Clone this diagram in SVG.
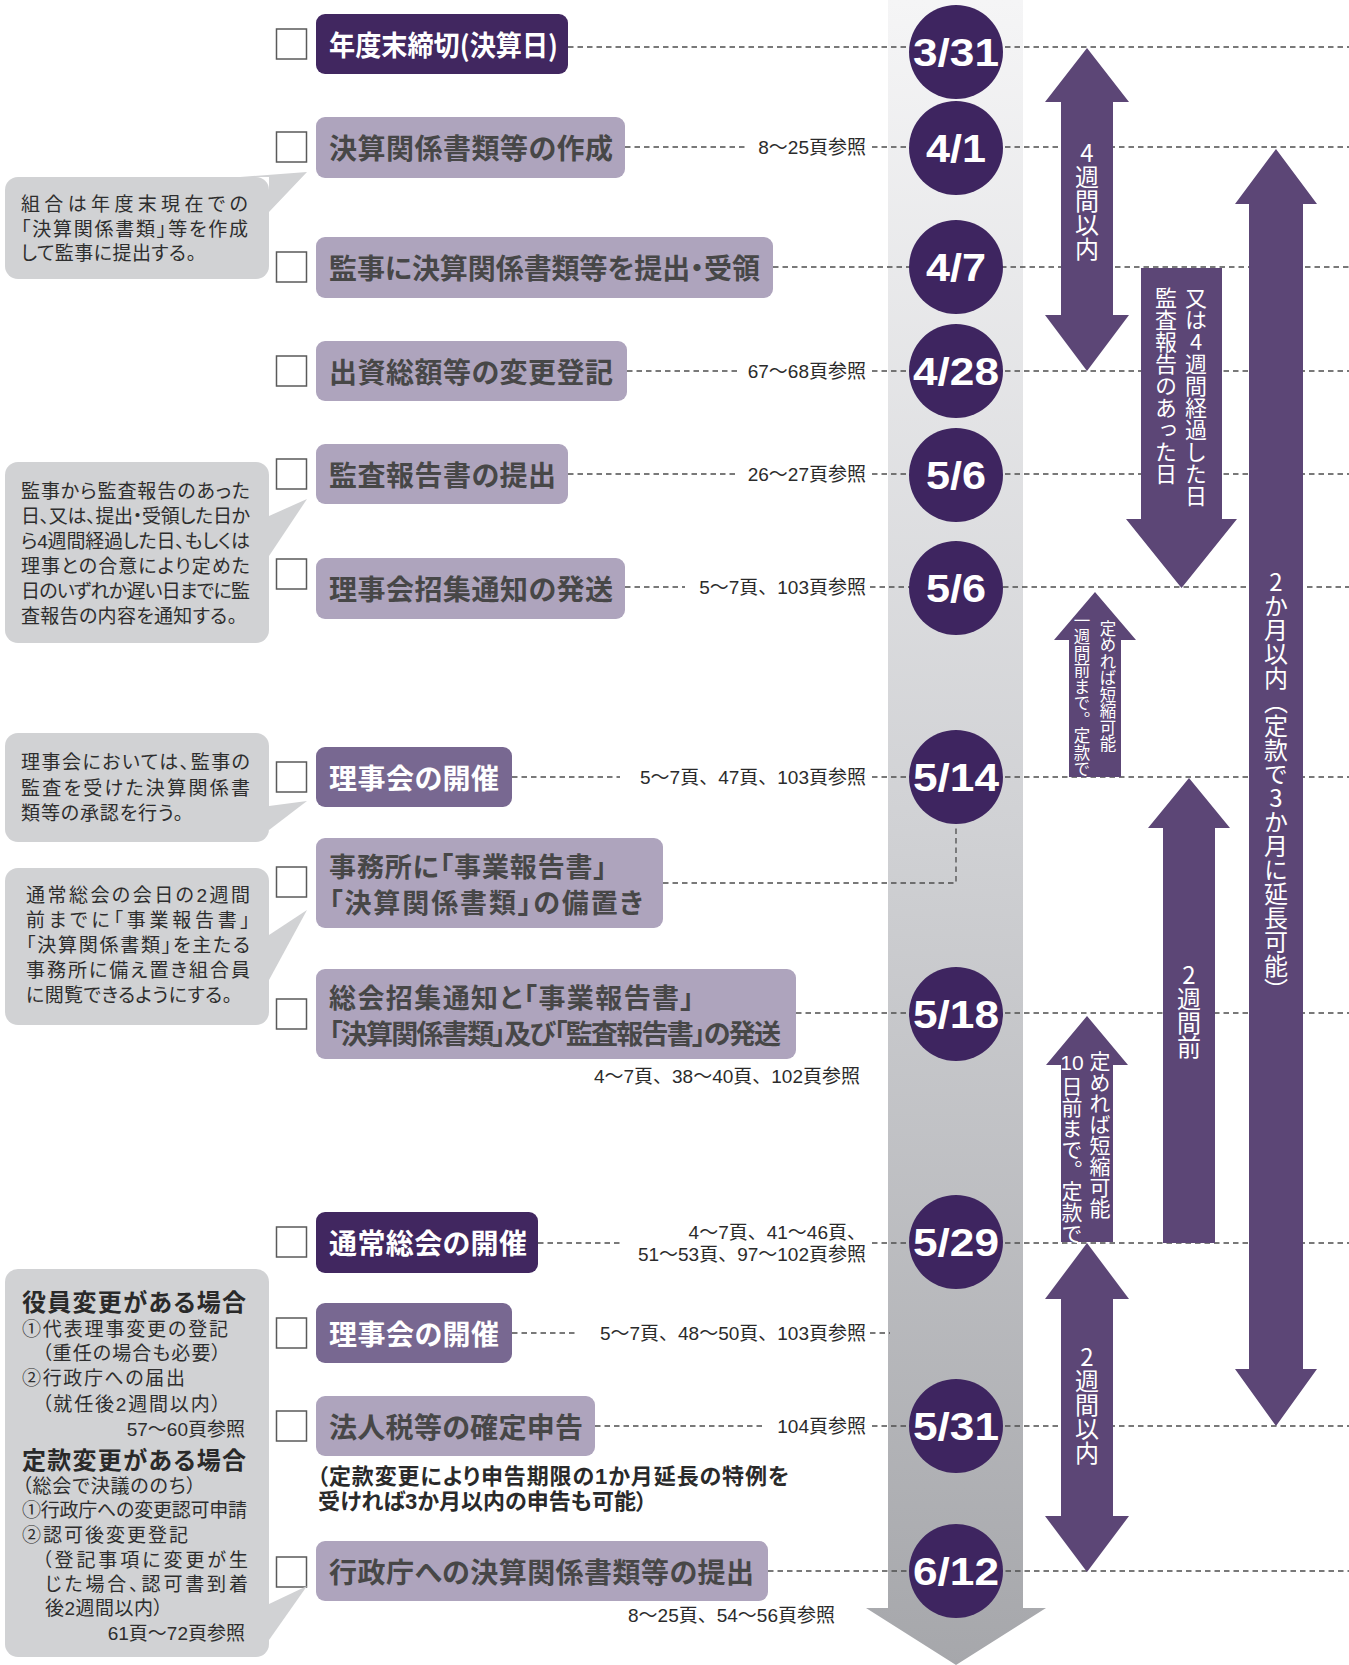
<svg xmlns="http://www.w3.org/2000/svg" width="1349" height="1665" viewBox="0 0 1349 1665">
<defs>
<linearGradient id="bandGrad" x1="0" y1="0" x2="0" y2="1665" gradientUnits="userSpaceOnUse">
<stop offset="0" stop-color="#f5f5f6"/>
<stop offset="0.5" stop-color="#d0d1d4"/>
<stop offset="1" stop-color="#a6a7ab"/>
</linearGradient>
<style>
.cb{fill:#fff;stroke:#5a5a5a;stroke-width:1.5}
.bxd{fill:#412760}
.bxm{fill:#786891}
.bxl{fill:#aea4bd}
.tb{font-family:"Noto Sans CJK JP",sans-serif;font-size:28px;font-weight:700;dominant-baseline:central;font-feature-settings:"palt"}
.t2{font-size:27px}
.tw{fill:#fff}
.tg{fill:#474747}
.dash{stroke:#4d4d4d;stroke-width:1.3;stroke-dasharray:5.5 4;fill:none}
.ref{font-family:"Liberation Sans","Noto Sans CJK JP",sans-serif;font-size:19px;fill:#2b2b2b;text-anchor:end;dominant-baseline:central}
.date{font-family:"Liberation Sans",sans-serif;font-weight:700;font-size:38px;fill:#fff;text-anchor:middle;dominant-baseline:central}
.dot{fill:#3e2560}
.arr{fill:#5c4676}
.vt{font-family:"Noto Sans CJK JP",sans-serif;fill:#fff;writing-mode:vertical-rl;text-orientation:upright}
.bub{fill:#d1d2d4}
.bt{font-family:"Liberation Sans","Noto Sans CJK JP",sans-serif;font-size:19px;fill:#2e2e2e;dominant-baseline:central;font-feature-settings:"palt"}
.bh{font-family:"Noto Sans CJK JP",sans-serif;font-size:24px;font-weight:700;fill:#2a2a2a}
.rf{font-size:19px;text-anchor:end}
.note{font-family:"Liberation Sans","Noto Sans CJK JP",sans-serif;font-size:22px;font-weight:700;fill:#2a2a2a;dominant-baseline:central;font-feature-settings:"palt"}
</style>
</defs>

<g id="timeline-band">
<path d="M888,0 H1023 V1608 H1046 L956,1665 L866,1608 H888 Z" fill="url(#bandGrad)"/>
</g>

<g id="connectors">
<line class="dash" x1="568" y1="47" x2="1349" y2="47"/>
<line class="dash" x1="625" y1="147" x2="745" y2="147"/>
<line class="dash" x1="872" y1="147" x2="1349" y2="147"/>
<line class="dash" x1="773" y1="267" x2="1349" y2="267"/>
<line class="dash" x1="627" y1="371" x2="737" y2="371"/>
<line class="dash" x1="872" y1="371" x2="1349" y2="371"/>
<line class="dash" x1="568" y1="474" x2="737" y2="474"/>
<line class="dash" x1="872" y1="474" x2="1349" y2="474"/>
<line class="dash" x1="625" y1="587" x2="685" y2="587"/>
<line class="dash" x1="870" y1="587" x2="1349" y2="587"/>
<line class="dash" x1="512" y1="777" x2="620" y2="777"/>
<line class="dash" x1="872" y1="777" x2="1349" y2="777"/>
<path class="dash" d="M663,883 H956 V826"/>
<line class="dash" x1="796" y1="1013" x2="1349" y2="1013"/>
<line class="dash" x1="538" y1="1243" x2="622" y2="1243"/>
<line class="dash" x1="872" y1="1243" x2="1349" y2="1243"/>
<line class="dash" x1="512" y1="1333" x2="577" y2="1333"/>
<line class="dash" x1="870" y1="1333" x2="890" y2="1333"/>
<line class="dash" x1="595" y1="1426" x2="766" y2="1426"/>
<line class="dash" x1="872" y1="1426" x2="1349" y2="1426"/>
<line class="dash" x1="768" y1="1571" x2="1349" y2="1571"/>
</g>

<g id="dates">
<g id="d-0331"><circle class="dot" cx="956" cy="52" r="47"/><text class="date" x="956" y="53" textLength="86" lengthAdjust="spacingAndGlyphs">3/31</text></g>
<g id="d-0401"><circle class="dot" cx="956" cy="148" r="47"/><text class="date" x="956" y="149" textLength="60" lengthAdjust="spacingAndGlyphs">4/1</text></g>
<g id="d-0407"><circle class="dot" cx="956" cy="267" r="47"/><text class="date" x="956" y="268" textLength="60" lengthAdjust="spacingAndGlyphs">4/7</text></g>
<g id="d-0428"><circle class="dot" cx="956" cy="371" r="47"/><text class="date" x="956" y="372" textLength="86" lengthAdjust="spacingAndGlyphs">4/28</text></g>
<g id="d-0506a"><circle class="dot" cx="956" cy="475" r="47"/><text class="date" x="956" y="476" textLength="60" lengthAdjust="spacingAndGlyphs">5/6</text></g>
<g id="d-0506b"><circle class="dot" cx="956" cy="588" r="47"/><text class="date" x="956" y="589" textLength="60" lengthAdjust="spacingAndGlyphs">5/6</text></g>
<g id="d-0514"><circle class="dot" cx="956" cy="777" r="47"/><text class="date" x="956" y="778" textLength="86" lengthAdjust="spacingAndGlyphs">5/14</text></g>
<g id="d-0518"><circle class="dot" cx="956" cy="1014" r="47"/><text class="date" x="956" y="1015" textLength="86" lengthAdjust="spacingAndGlyphs">5/18</text></g>
<g id="d-0529"><circle class="dot" cx="956" cy="1242" r="47"/><text class="date" x="956" y="1243" textLength="86" lengthAdjust="spacingAndGlyphs">5/29</text></g>
<g id="d-0531"><circle class="dot" cx="956" cy="1426" r="47"/><text class="date" x="956" y="1427" textLength="86" lengthAdjust="spacingAndGlyphs">5/31</text></g>
<g id="d-0612"><circle class="dot" cx="956" cy="1571" r="47"/><text class="date" x="956" y="1572" textLength="86" lengthAdjust="spacingAndGlyphs">6/12</text></g>
</g>

<g id="arrows">
<g id="arrow-4weeks">
<path class="arr" d="M1087,48 L1129,102 L1113,102 L1113,315 L1129,315 L1087,371 L1045,315 L1061,315 L1061,102 L1045,102 Z"/>
<text class="vt" x="1087" y="141" style="font-size:24px">4週間以内</text>
</g>
<g id="arrow-audit">
<path class="arr" d="M1141,268 L1222,268 L1222,519 L1237,519 L1181.5,588 L1126,519 L1141,519 Z"/>
<text class="vt" x="1166" y="287" style="font-size:22px">監査報告のあった日</text>
<text class="vt" x="1196" y="287" style="font-size:22px">又は4週間経過した日</text>
</g>
<g id="arrow-2months">
<path class="arr" d="M1276,149 L1317,204 L1303,204 L1303,1369 L1317,1369 L1276,1426 L1235,1369 L1249,1369 L1249,204 L1235,204 Z"/>
<text class="vt" x="1276" y="570" style="font-size:24px">2か月以内（定款で3か月に延長可能）</text>
</g>
<g id="arrow-1week">
<path class="arr" d="M1095,592 L1136,640 L1121,640 L1121,777 L1069,777 L1069,640 L1054,640 Z"/>
<text class="vt" x="1082" y="612" style="font-size:16.5px">一週間前まで。定款で</text>
<text class="vt" x="1108" y="620" style="font-size:16.5px">定めれば短縮可能</text>
</g>
<g id="arrow-2weeks-before">
<path class="arr" d="M1189,778 L1230,828 L1215,828 L1215,1243 L1163,1243 L1163,828 L1148,828 Z"/>
<text class="vt" x="1189" y="963" style="font-size:24px">2週間前</text>
</g>
<g id="arrow-10days">
<path class="arr" d="M1087,1016 L1128,1065 L1113,1065 L1113,1242 L1061,1242 L1061,1065 L1046,1065 Z"/>
<text x="1072" y="1062" style="font-family:'Liberation Sans',sans-serif;font-size:21px;fill:#fff;text-anchor:middle;dominant-baseline:central">10</text>
<text class="vt" x="1072" y="1076" style="font-size:21px">日前まで。定款で</text>
<text class="vt" x="1100" y="1051" style="font-size:21px">定めれば短縮可能</text>
</g>
<g id="arrow-2weeks">
<path class="arr" d="M1087,1243 L1129,1299 L1113,1299 L1113,1516 L1129,1516 L1087,1572 L1045,1516 L1061,1516 L1061,1299 L1045,1299 Z"/>
<text class="vt" x="1087" y="1345" style="font-size:24px">2週間以内</text>
</g>
</g>

<g id="n1"><rect class="cb" x="276.5" y="29" width="30" height="30"/><rect class="bxd" x="316" y="14" width="252" height="60" rx="9"/><text class="tb tw" x="329" y="44" textLength="229" lengthAdjust="spacingAndGlyphs">年度末締切(決算日)</text></g>
<g id="n2"><rect class="cb" x="276.5" y="132" width="30" height="30"/><rect class="bxl" x="316" y="117" width="309" height="61" rx="9"/><text class="tb tg" x="329" y="147" textLength="284">決算関係書類等の作成</text></g>
<g id="n3"><rect class="cb" x="276.5" y="252" width="30" height="30"/><rect class="bxl" x="316" y="237" width="457" height="61" rx="9"/><text class="tb tg" x="329" y="267" textLength="431">監事に決算関係書類等を提出・受領</text></g>
<g id="n4"><rect class="cb" x="276.5" y="356" width="30" height="30"/><rect class="bxl" x="316" y="341" width="311" height="60" rx="9"/><text class="tb tg" x="329" y="371" textLength="284">出資総額等の変更登記</text></g>
<g id="n5"><rect class="cb" x="276.5" y="459" width="30" height="30"/><rect class="bxl" x="316" y="444" width="252" height="60" rx="9"/><text class="tb tg" x="329" y="474" textLength="227">監査報告書の提出</text></g>
<g id="n6"><rect class="cb" x="276.5" y="559" width="30" height="30"/><rect class="bxl" x="316" y="558" width="309" height="61" rx="9"/><text class="tb tg" x="329" y="588" textLength="284">理事会招集通知の発送</text></g>
<g id="n7"><rect class="cb" x="276.5" y="762" width="30" height="30"/><rect class="bxm" x="316" y="747" width="196" height="60" rx="9"/><text class="tb tw" x="329" y="777" textLength="170">理事会の開催</text></g>
<g id="n8"><rect class="cb" x="276.5" y="867" width="30" height="30"/><rect class="bxl" x="316" y="838" width="347" height="90" rx="9"/><text class="tb t2 tg"><tspan x="329" y="865" textLength="278">事務所に「事業報告書」</tspan><tspan x="329" y="901" textLength="314">「決算関係書類」の備置き</tspan></text></g>
<g id="n9"><rect class="cb" x="276.5" y="999" width="30" height="30"/><rect class="bxl" x="316" y="969" width="480" height="90" rx="9"/><text class="tb t2 tg"><tspan x="329" y="996" textLength="365">総会招集通知と「事業報告書」</tspan><tspan x="329" y="1032" textLength="452">「決算関係書類」及び「監査報告書」の発送</tspan></text></g>
<g id="n10"><rect class="cb" x="276.5" y="1227" width="30" height="30"/><rect class="bxd" x="316" y="1212" width="222" height="61" rx="9"/><text class="tb tw" x="329" y="1242" textLength="198">通常総会の開催</text></g>
<g id="n11"><rect class="cb" x="276.5" y="1318" width="30" height="30"/><rect class="bxm" x="316" y="1303" width="196" height="60" rx="9"/><text class="tb tw" x="329" y="1333" textLength="170">理事会の開催</text></g>
<g id="n12"><rect class="cb" x="276.5" y="1411" width="30" height="30"/><rect class="bxl" x="316" y="1396" width="279" height="60" rx="9"/><text class="tb tg" x="329" y="1426" textLength="254">法人税等の確定申告</text>
<text class="note"><tspan x="317" y="1476" textLength="472">（定款変更により申告期限の1か月延長の特例を</tspan><tspan x="318" y="1501">受ければ3か月以内の申告も可能）</tspan></text></g>
<g id="n13"><rect class="cb" x="276.5" y="1557" width="30" height="30"/><rect class="bxl" x="316" y="1541" width="452" height="60" rx="9"/><text class="tb tg" x="329" y="1571" textLength="425">行政庁への決算関係書類等の提出</text></g>

<g id="refs">
<text class="ref" x="866" y="147">8〜25頁参照</text>
<text class="ref" x="866" y="371">67〜68頁参照</text>
<text class="ref" x="866" y="474">26〜27頁参照</text>
<text class="ref" x="866" y="587">5〜7頁、103頁参照</text>
<text class="ref" x="866" y="777">5〜7頁、47頁、103頁参照</text>
<text class="ref" x="860" y="1076">4〜7頁、38〜40頁、102頁参照</text>
<text class="ref"><tspan x="866" y="1232">4〜7頁、41〜46頁、</tspan><tspan x="866" y="1254">51〜53頁、97〜102頁参照</tspan></text>
<text class="ref" x="866" y="1333">5〜7頁、48〜50頁、103頁参照</text>
<text class="ref" x="866" y="1426">104頁参照</text>
<text class="ref" x="835" y="1615">8〜25頁、54〜56頁参照</text>
</g>

<g id="callout1">
<rect class="bub" x="5" y="177" width="264" height="102" rx="13"/>
<polygon class="bub" points="240,177 307,172 269,212 269,177"/>
<text class="bt"><tspan x="21" y="204" textLength="227">組合は年度末現在での</tspan><tspan x="21" y="229" textLength="227">「決算関係書類」等を作成</tspan><tspan x="21" y="253" textLength="175">して監事に提出する。</tspan></text>
</g>
<g id="callout2">
<rect class="bub" x="5" y="462" width="264" height="181" rx="13"/>
<polygon class="bub" points="269,516 307,499 269,556"/>
<text class="bt"><tspan x="21" y="491" textLength="229">監事から監査報告のあった</tspan><tspan x="21" y="516" textLength="229">日、又は、提出・受領した日か</tspan><tspan x="21" y="541" textLength="229">ら4週間経過した日、もしくは</tspan><tspan x="21" y="566" textLength="229">理事との合意により定めた</tspan><tspan x="21" y="591" textLength="229">日のいずれか遅い日までに監</tspan><tspan x="21" y="616" textLength="216">査報告の内容を通知する。</tspan></text>
</g>
<g id="callout3">
<rect class="bub" x="5" y="733" width="264" height="109" rx="13"/>
<polygon class="bub" points="269,806 307,801 269,830"/>
<text class="bt"><tspan x="21" y="762" textLength="229">理事会においては、監事の</tspan><tspan x="21" y="788" textLength="229">監査を受けた決算関係書</tspan><tspan x="21" y="813" textLength="162">類等の承認を行う。</tspan></text>
</g>
<g id="callout4">
<rect class="bub" x="5" y="868" width="264" height="157" rx="13"/>
<polygon class="bub" points="269,935 307,910 269,980"/>
<text class="bt"><tspan x="26" y="895" textLength="224">通常総会の会日の2週間</tspan><tspan x="26" y="920" textLength="224">前までに「事業報告書」</tspan><tspan x="26" y="945" textLength="224">「決算関係書類」を主たる</tspan><tspan x="26" y="970" textLength="224">事務所に備え置き組合員</tspan><tspan x="26" y="995" textLength="206">に閲覧できるようにする。</tspan></text>
</g>
<g id="callout5">
<rect class="bub" x="5" y="1269" width="264" height="388" rx="13"/>
<polygon class="bub" points="269,1604 307,1586 269,1640"/>
<text class="bt"><tspan class="bh" x="22" y="1300" textLength="224">役員変更がある場合</tspan><tspan x="22" y="1329" textLength="206">①代表理事変更の登記</tspan><tspan x="42" y="1353" textLength="179">（重任の場合も必要）</tspan><tspan x="22" y="1378" textLength="163">②行政庁への届出</tspan><tspan x="42" y="1404" textLength="179">（就任後2週間以内）</tspan><tspan class="rf" x="245" y="1429">57〜60頁参照</tspan><tspan class="bh" x="22" y="1458" textLength="224">定款変更がある場合</tspan><tspan x="22" y="1486" textLength="174">（総会で決議ののち）</tspan><tspan x="22" y="1510" textLength="225">①行政庁への変更認可申請</tspan><tspan x="22" y="1535" textLength="166">②認可後変更登記</tspan><tspan x="42" y="1560" textLength="206">（登記事項に変更が生</tspan><tspan x="45" y="1584" textLength="203">じた場合、認可書到着</tspan><tspan x="45" y="1608" textLength="118">後2週間以内）</tspan><tspan class="rf" x="245" y="1633">61頁〜72頁参照</tspan></text>
</g>
</svg>
